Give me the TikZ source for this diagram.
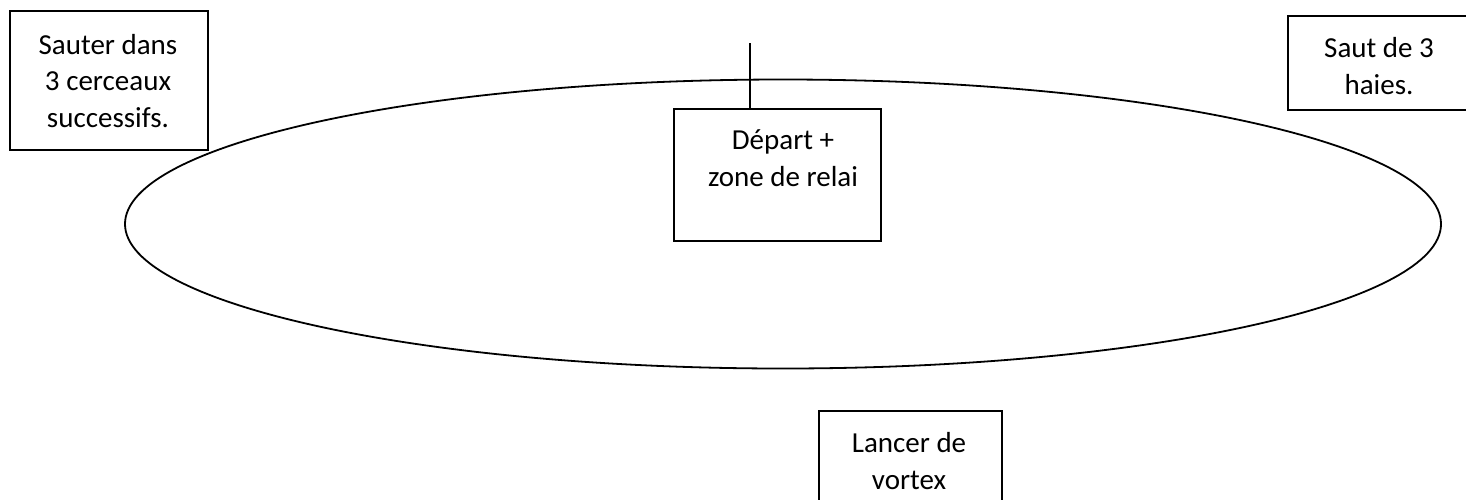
\documentclass[tikz,border=0pt]{standalone}
\usepackage{fontspec}
\setmainfont{Carlito}
\usetikzlibrary{shapes.geometric}
\begin{document}
\begin{tikzpicture}[x=1pt,y=-1pt,
  box/.style={draw=black,line width=1.6pt,rectangle,inner sep=0pt},
  txt/.style={align=center,font=\fontsize{29}{36.5}\selectfont,inner sep=0pt}]
\useasboundingbox (0,0) rectangle (1466,499);
% track
\node[draw=black,line width=1.8pt,ellipse,minimum width=1316,minimum height=289,inner sep=0pt] (track) at (783,224) {};
% boxes
\node[box,minimum width=198,minimum height=139] (b1) at (109,80.5) {};
\node[txt] (t1) at (108,81) {Sauter dans\\3 cerceaux\\successifs.};
\node[box,fill=white,minimum width=207,minimum height=132] (b2) at (777.5,175) {};
\node[txt] (t2) at (783,158) {Départ +\\zone de relai};
\coordinate (top) at (750,43);
\draw[line width=1.4pt] (top) -- (top |- b2.north);
\node[box,minimum width=200,minimum height=94,anchor=north west] (b3) at (1287,15) {};
\node[txt] (t3) at (1379,66) {Saut de 3\\haies.};
\node[box,minimum width=183,minimum height=120,anchor=north west] (b4) at (818,410) {};
\node[txt] (t4) at (909,461) {Lancer de\\vortex};
\end{tikzpicture}
\end{document}
